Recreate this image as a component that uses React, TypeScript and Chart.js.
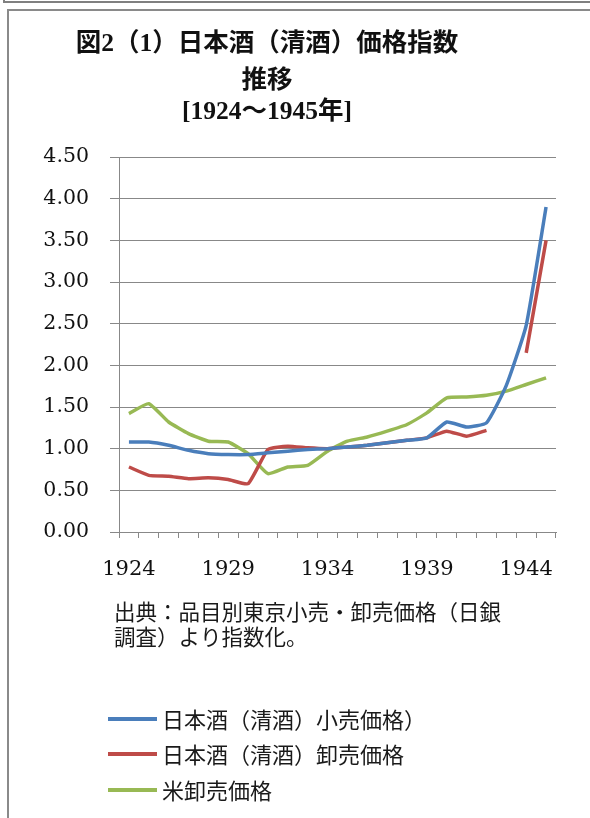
import React, { useEffect, useRef } from "react";
import { Chart, registerables } from "chart.js";

Chart.register(...registerables);

const years = [
  "1924", "1925", "1926", "1927", "1928", "1929", "1930", "1931", "1932", "1933", "1934",
  "1935", "1936", "1937", "1938", "1939", "1940", "1941", "1942", "1943", "1944", "1945",
];

const sakeRetail = [
  1.08, 1.08, 1.04, 0.98, 0.94, 0.93, 0.93, 0.95, 0.97, 0.99, 1.0,
  1.02, 1.04, 1.07, 1.1, 1.13, 1.32, 1.26, 1.31, 1.76, 2.48, 3.9,
];

const sakeWholesale = [
  0.78, 0.68, 0.67, 0.64, 0.65, 0.63, 0.58, 0.99, 1.03, 1.01, 1.0,
  1.02, 1.04, 1.07, 1.1, 1.13, 1.21, 1.15, 1.22, null, 2.15, 3.5,
];

const riceWholesale = [
  1.42, 1.54, 1.32, 1.18, 1.09, 1.08, 0.94, 0.7, 0.78, 0.8, 0.97,
  1.09, 1.14, 1.21, 1.29, 1.43, 1.61, 1.62, 1.64, 1.69, 1.77, 1.85,
];

const seriesNames = [
  "日本酒（清酒）小売価格）",
  "日本酒（清酒）卸売価格",
  "米卸売価格",
];

const titleLines = ["図2（1）日本酒（清酒）価格指数", "推移", "[1924〜1945年]"];
const noteLines = ["出典：品目別東京小売・卸売価格（日銀", "調査）より指数化。"];

const COLORS = ["#4a7ebb", "#be4b48", "#98b954"];

const decorPlugin = {
  id: "decor",
  afterDraw(chart: any) {
    const ctx = chart.ctx;
    ctx.save();
    // title
    ctx.fillStyle = "#111";
    ctx.textAlign = "center";
    ctx.textBaseline = "middle";
    ctx.font = 'bold 25.5px "Liberation Serif", "Noto Sans CJK JP"';
    const ty = [44, 81, 112];
    titleLines.forEach((t, i) => ctx.fillText(t, 267, ty[i]));

    // note
    ctx.textAlign = "left";
    ctx.fillStyle = "#1a1a1a";
    ctx.font = '21.5px "Noto Sans CJK JP"';
    const ny = [612, 637];
    noteLines.forEach((t, i) => ctx.fillText(t, 114, ny[i]));

    // legend
    const ly = [719, 754, 790];
    chart.data.datasets.forEach((ds: any, i: number) => {
      ctx.strokeStyle = ds.borderColor;
      ctx.lineWidth = 4;
      ctx.beginPath();
      ctx.moveTo(108, ly[i]);
      ctx.lineTo(157, ly[i]);
      ctx.stroke();
      ctx.fillStyle = "#1a1a1a";
      ctx.font = '22px "Noto Sans CJK JP"';
      ctx.fillText(ds.label, 162, ly[i] + 1);
    });
    ctx.restore();
  },
};

export default function App() {
  const ref = useRef<HTMLCanvasElement | null>(null);

  useEffect(() => {
    if (!ref.current) return;
    const chart = new Chart(ref.current, {
      type: "line",
      data: {
        labels: years,
        datasets: [sakeRetail, sakeWholesale, riceWholesale].map((d, i) => ({
          label: seriesNames[i],
          data: d,
          borderColor: COLORS[i],
          backgroundColor: COLORS[i],
          borderWidth: 3.5,
          pointRadius: 0,
          tension: 0.15,
          fill: false,
          spanGaps: false,
        })),
      },
      options: {
        responsive: false,
        animation: false,
        layout: { padding: { left: 0, top: 157, right: 34, bottom: 236 } },
        plugins: {
          legend: { display: false },
          title: { display: false },
          tooltip: { enabled: false },
        },
        scales: {
          x: {
            type: "category",
            offset: true,
            afterFit: (s: any) => {
              s.height = 50;
            },
            grid: {
              offset: true,
              drawOnChartArea: false,
              drawTicks: true,
              tickLength: 6,
              color: "#888",
            },
            border: { display: true, color: "#888", width: 1 },
            ticks: {
              autoSkip: false,
              maxRotation: 0,
              minRotation: 0,
              padding: 19,
              color: "#111",
              font: { family: '"DejaVu Serif"', size: 21 },
              callback: (_v: any, i: number) => (i % 5 === 0 ? years[i] : ""),
            },
          },
          y: {
            min: 0,
            max: 4.5,
            afterFit: (s: any) => {
              s.width = 119;
            },
            grid: { color: "#888", lineWidth: 1, tickLength: 9, drawTicks: true },
            border: { display: true, color: "#888", width: 1 },
            ticks: {
              stepSize: 0.5,
              padding: 21,
              color: "#111",
              font: { family: '"DejaVu Serif"', size: 20.5 },
              callback: (v: any) => Number(v).toFixed(2),
            },
          },
        },
      },
      plugins: [decorPlugin],
    });
    return () => chart.destroy();
  }, []);

  return (
    <div style={{ position: "absolute", left: 0, top: 0, width: 590, height: 818, background: "#fff", overflow: "hidden" }}>
      <div style={{ position: "absolute", left: 3, top: 1, width: 587, height: 2, background: "#808080" }} />
      <div style={{ position: "absolute", left: 3, top: 0, width: 2, height: 3, background: "#808080" }} />
      <div style={{ position: "absolute", left: 7, top: 9, width: 583, height: 2, background: "#8a8a8a" }} />
      <div style={{ position: "absolute", left: 7, top: 9, width: 2, height: 809, background: "#8a8a8a" }} />
      <canvas ref={ref} width={590} height={818} style={{ position: "absolute", left: 0, top: 0, width: 590, height: 818 }} />
    </div>
  );
}
